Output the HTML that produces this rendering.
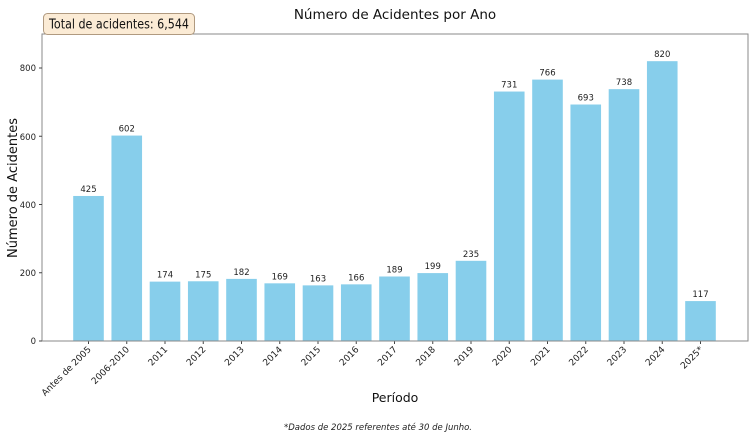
<!DOCTYPE html>
<html><head><meta charset="utf-8"><style>
html,body{margin:0;padding:0;background:#fff;}
svg{display:block;font-family:"DejaVu Sans","Liberation Sans",sans-serif;}
</style></head><body>
<svg width="756" height="434" viewBox="0 0 756 434" xmlns="http://www.w3.org/2000/svg">
<rect width="756" height="434" fill="#fff"/>
<g id="bars" fill="#87CEEB"></g>
<g id="labels" font-size="8.5" fill="#222" text-anchor="middle"></g>
<g id="ticks" font-size="9" fill="#222"></g>
<rect x="42" y="34" width="706" height="307" fill="none" stroke="#888" stroke-width="1"/>
<g font-size="8.5" fill="#222" text-anchor="end">
<text x="36" y="344">0</text><line x1="39" y1="341" x2="42" y2="341" stroke="#444"/>
<text x="36" y="276">200</text><line x1="39" y1="272.75" x2="42" y2="272.75" stroke="#444"/>
<text x="36" y="208">400</text><line x1="39" y1="204.5" x2="42" y2="204.5" stroke="#444"/>
<text x="36" y="140">600</text><line x1="39" y1="136.25" x2="42" y2="136.25" stroke="#444"/>
<text x="36" y="71">800</text><line x1="39" y1="68" x2="42" y2="68" stroke="#444"/>
</g>
<text x="395" y="19" font-size="13.5" text-anchor="middle" fill="#111">Número de Acidentes por Ano</text>
<rect x="43.5" y="13.5" width="151" height="21" rx="4" fill="#FBEBD5" stroke="#b09a80" stroke-width="1"/>
<text x="49" y="28.5" font-size="13" fill="#111" textLength="140" lengthAdjust="spacingAndGlyphs">Total de acidentes: 6,544</text>
<text x="395" y="402" font-size="12.5" text-anchor="middle" fill="#111">Período</text>
<text x="17" y="188" font-size="13" text-anchor="middle" fill="#111" transform="rotate(-90 17 188)">Número de Acidentes</text>
<text x="378" y="430" font-size="8.5" font-style="italic" text-anchor="middle" fill="#222">*Dados de 2025 referentes até 30 de Junho.</text>
</svg>
<script>
var cats=["Antes de 2005","2006-2010","2011","2012","2013","2014","2015","2016","2017","2018","2019","2020","2021","2022","2023","2024","2025*"];
var vals=[425,602,174,175,182,169,163,166,189,199,235,731,766,693,738,820,117];
var ns="http://www.w3.org/2000/svg";
var b=document.getElementById("bars"),l=document.getElementById("labels"),t=document.getElementById("ticks");
for(var i=0;i<cats.length;i++){
 var cx=88.5+38.25*i,h=vals[i]*0.34125;
 var r=document.createElementNS(ns,"rect");
 r.setAttribute("x",cx-15.3);r.setAttribute("y",341-h);r.setAttribute("width",30.6);r.setAttribute("height",h);b.appendChild(r);
 var tx=document.createElementNS(ns,"text");tx.setAttribute("x",cx);tx.setAttribute("y",341-h-4);tx.textContent=vals[i];l.appendChild(tx);
 var ln=document.createElementNS(ns,"line");ln.setAttribute("x1",cx);ln.setAttribute("x2",cx);ln.setAttribute("y1",341);ln.setAttribute("y2",344);ln.setAttribute("stroke","#444");t.appendChild(ln);
 var tk=document.createElementNS(ns,"text");tk.setAttribute("text-anchor","end");
 tk.setAttribute("transform","translate("+(cx+3)+",350) rotate(-45)");tk.textContent=cats[i];t.appendChild(tk);
}
</script>
</body></html>
